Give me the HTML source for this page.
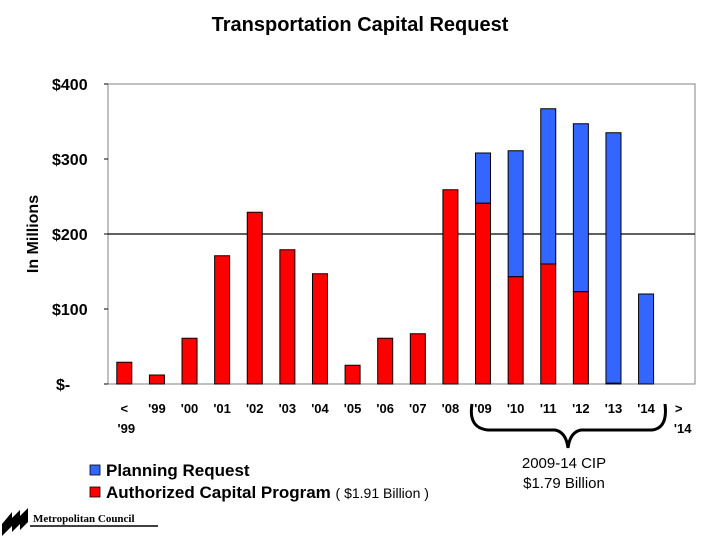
<!DOCTYPE html>
<html><head><meta charset="utf-8"><style>
body{margin:0;background:#fff;width:720px;height:540px;overflow:hidden;font-family:"Liberation Sans",sans-serif}
</style></head><body>
<svg id="c" width="720" height="540" xmlns="http://www.w3.org/2000/svg">
<text x="360" y="31" text-anchor="middle" font-size="20" font-weight="bold">Transportation Capital Request</text>
<text transform="translate(38,234) rotate(-90)" text-anchor="middle" font-size="16" font-weight="bold">In Millions</text>
<rect x="108" y="84" width="587" height="300" fill="none" stroke="#808080" stroke-width="1"/>
<g id="yt"></g><g id="bars"></g><g id="xl"></g>
<path d="M472,404 Q468,428 488,430 L555,430 Q566,432 568,448 Q570,432 581,430 L652,430 Q668,428 665,404" fill="none" stroke="#000" stroke-width="3"/>
<text x="564" y="468" text-anchor="middle" font-size="15">2009-14 CIP</text>
<text x="564" y="488" text-anchor="middle" font-size="15">$1.79 Billion</text>
<g>
<rect x="90" y="465" width="10" height="10" fill="#3366ff" stroke="#000" stroke-width="0.8"/>
<text x="106" y="476" font-size="17" font-weight="bold">Planning Request</text>
<rect x="90" y="487" width="10" height="10" fill="#ff0000" stroke="#000" stroke-width="0.8"/>
<text x="106" y="498" font-size="17" font-weight="bold">Authorized Capital Program <tspan font-weight="normal" font-size="14">( $1.91 Billion )</tspan></text>
</g>
<g>
<path d="M2,524 L12,512 L12,518 L20,510 L20,516 L28,508 L28,522 L20,530 L20,524 L12,532 L12,526 L2,536Z" fill="#000"/>
<text x="33" y="522" font-family="Liberation Serif,serif" font-size="11" font-weight="bold">Metropolitan Council</text>
<line x1="30" y1="526" x2="158" y2="526" stroke="#000" stroke-width="1.5"/>
</g>
</svg>
<script>
const categories=["<|'99","'99","'00","'01","'02","'03","'04","'05","'06","'07","'08","'09","'10","'11","'12","'13","'14",">|'14"];
const authorized=[29,12,61,171,229,179,147,25,61,67,259,241,143,160,123,1,0,0];
const planning=[0,0,0,0,0,0,0,0,0,0,0,67,168,207,224,334,120,0];
const yTicks=[0,100,200,300,400];
const yTickLabels=["$-","$100","$200","$300","$400"];
const NS="http://www.w3.org/2000/svg";
const L=108,R=695,T=84,B=384,YMAX=400;
const slot=(R-L)/categories.length, bw=15;
const y=v=>B-(v/YMAX)*(B-T);
const xc=i=>L+slot*(i+0.5);
function mk(t,a,p){const e=document.createElementNS(NS,t);for(const k in a)e.setAttribute(k,a[k]);p.appendChild(e);return e;}
const yt=document.getElementById('yt');
yTicks.forEach((v,i)=>{
 if(v===200){const g=mk('line',{x1:L,x2:R,y1:y(v),y2:y(v),stroke:'#000','stroke-width':1.2},yt);
 
 }
 const tk=mk('line',{x1:L-4,x2:L,y1:y(v),y2:y(v),stroke:'#000'},yt);
 
 
 const t=mk('text',{x:v===0?56:52,y:y(v)+6,'text-anchor':'start','font-size':16,'font-weight':'bold'},yt);
 t.textContent=yTickLabels[i];
 
 
});
const bars=document.getElementById('bars');
categories.forEach((c,i)=>{
 const a=authorized[i],p=planning[i];
 if(p>0){const r=mk('rect',{x:xc(i)-bw/2,y:y(a+p),width:bw,height:y(a)-y(a+p),fill:'#3366ff',stroke:'#000','stroke-width':1},bars);
 
 }
 if(a>0){const r=mk('rect',{x:xc(i)-bw/2,y:y(a),width:bw,height:B-y(a),fill:'#ff0000',stroke:'#000','stroke-width':1},bars);
 
 }
});
const xl=document.getElementById('xl');
categories.forEach((c,i)=>{
 const parts=c.split('|');
 parts.forEach((s,j)=>{
  const t=mk('text',{x:xc(i)+(parts.length>1&&j===1?(i===0?2:4):0),y:413+j*20,'text-anchor':'middle','font-size':13,'font-weight':'bold'},xl);
  t.textContent=s;
  
  
 });
});
</script>
</body></html>
